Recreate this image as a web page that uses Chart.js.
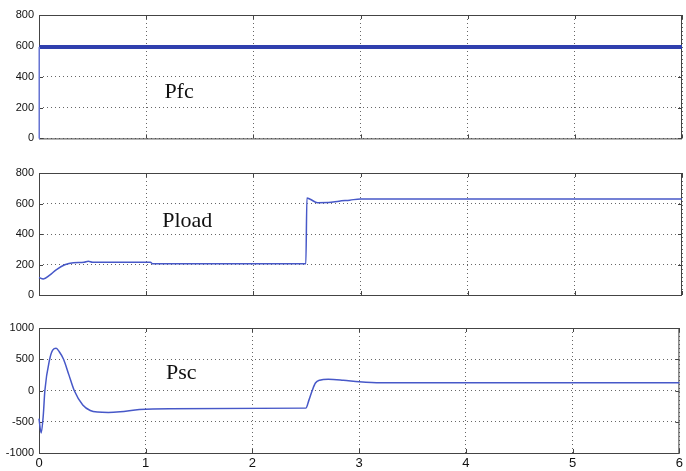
<!DOCTYPE html>
<html>
<head>
<meta charset="utf-8">
<script src="https://cdn.jsdelivr.net/npm/chart.js@4.4.1/dist/chart.umd.min.js"></script>
<style>
    html, body { margin: 0; padding: 0; background: #fff; }
    #wrap { position: relative; width: 686px; height: 471px; overflow: hidden; }
    .panel { position: absolute; left: 0; width: 686px; }
</style>
</head>
<body>
<div id="wrap">
    <div class="panel" style="top:0;height:150px"><canvas id="fcChart"></canvas></div>
    <div class="panel" style="top:158px;height:150px"><canvas id="loadChart"></canvas></div>
    <div class="panel" style="top:313px;height:158px"><canvas id="scChart"></canvas></div>
</div>
<script>
// Time axis ticks (s)
const timeTicks = [0, 1, 2, 3, 4, 5, 6];

// Fuel cell power: start-up edge and steady level
const timeFcRise = [0, 0.002];
const powerFcRise = [0, 592];
const timeFc = [0.002, 6];
const powerFc = [592, 592];

// Load power
const timeLoad = [0, 0.04, 0.1, 0.16, 0.24, 0.32, 0.42, 0.46, 0.5, 1.04, 1.06, 2.49, 2.5, 2.53, 2.6, 2.7, 2.8, 2.9, 3.0, 6];
const powerLoad = [115, 105, 130, 165, 198, 212, 215, 222, 215, 215, 205, 205, 636, 628, 605, 606, 615, 622, 630, 630];

// Supercapacitor power
const timeSc = [0, 0.02, 0.04, 0.055, 0.1, 0.13, 0.16, 0.19, 0.23, 0.28, 0.33, 0.41, 0.48, 0.55, 0.65, 0.76, 0.94, 1.22, 2.5, 2.53, 2.56, 2.59, 2.63, 2.71, 2.85, 3.0, 3.2, 6];
const powerSc = [-450, -680, -400, 0, 500, 650, 675, 620, 500, 250, 0, -232, -320, -345, -350, -340, -305, -291, -282, -150, 0, 120, 165, 179, 165, 141, 125, 125];

const yTicksPower = [0, 200, 400, 600, 800];
const yTicksSc = [-1000, -500, 0, 500, 1000];

const lineBlue = '#4758c8';
const frameColor = '#444';

function toPoints(xs, ys) {
    return xs.map((x, i) => ({ x: x, y: ys[i] }));
}

function series(xs, ys, color, width, smooth) {
    return {
        data: toPoints(xs, ys),
        borderColor: color,
        borderWidth: width,
        pointRadius: 0,
        fill: false,
        clip: 4,
        cubicInterpolationMode: smooth ? 'monotone' : 'default'
    };
}

// Box around the plot area with inward ticks on all four sides (under the traces),
// and the panel caption on top
const framePlugin = {
    id: 'frameBox',
    beforeDatasetsDraw(chart) {
        const { ctx, chartArea: a, scales } = chart;
        ctx.save();
        ctx.strokeStyle = frameColor;
        ctx.lineWidth = 1;
        ctx.strokeRect(a.left + 0.5, a.top + 0.5, a.right - a.left - 1, a.bottom - a.top);
        const len = 4;
        ctx.beginPath();
        scales.x.ticks.forEach(t => {
            const px = Math.round(scales.x.getPixelForValue(t.value)) + 0.5;
            ctx.moveTo(px, a.top); ctx.lineTo(px, a.top + len);
            ctx.moveTo(px, a.bottom); ctx.lineTo(px, a.bottom - len);
        });
        scales.y.ticks.forEach(t => {
            const py = Math.round(scales.y.getPixelForValue(t.value)) + 0.5;
            ctx.moveTo(a.left, py); ctx.lineTo(a.left + len, py);
            ctx.moveTo(a.right, py); ctx.lineTo(a.right - len, py);
        });
        ctx.stroke();
        ctx.restore();
    },
    afterDraw(chart, args, opts) {
        if (!opts.text) return;
        const { ctx, scales } = chart;
        ctx.save();
        ctx.fillStyle = '#111';
        ctx.font = '22px "Liberation Serif", "Times New Roman", serif';
        ctx.textBaseline = 'middle';
        ctx.textAlign = 'left';
        ctx.fillText(opts.text, scales.x.getPixelForValue(opts.x), scales.y.getPixelForValue(opts.y));
        ctx.restore();
    }
};

function makePanel(canvasId, datasets, yTicks, caption, opts) {
    const ctx = document.getElementById(canvasId).getContext('2d');
    return new Chart(ctx, {
        type: 'line',
        data: { datasets: datasets },
        options: {
            responsive: true,
            maintainAspectRatio: false,
            animation: false,
            events: [],
            layout: { padding: { left: 0, right: 4, top: 15, bottom: opts.bottom } },
            plugins: {
                legend: { display: false },
                tooltip: { enabled: false },
                frameBox: caption
            },
            scales: {
                x: {
                    type: 'linear',
                    min: 0,
                    max: 6,
                    afterBuildTicks: s => { s.ticks = timeTicks.map(v => ({ value: v })); },
                    afterFit: s => { s.height = opts.showX ? 18 : 0; },
                    grid: { color: '#666', lineWidth: 1, drawTicks: false },
                    border: { display: false, dash: [1, 3] },
                    ticks: {
                        display: !!opts.showX,
                        color: '#111',
                        padding: 3,
                        maxRotation: 0,
                        callback: v => String(v),
                        font: { family: '"Liberation Sans", Arial, sans-serif', size: 13 }
                    }
                },
                y: {
                    min: yTicks[0],
                    max: yTicks[yTicks.length - 1],
                    afterBuildTicks: s => { s.ticks = yTicks.map(v => ({ value: v })); },
                    afterFit: s => { s.width = 39; },
                    grid: { color: '#666', lineWidth: 1, drawTicks: false },
                    border: { display: false, dash: [1, 3] },
                    ticks: {
                        color: '#111',
                        padding: 5,
                        callback: v => String(v),
                        font: { family: '"Liberation Sans", Arial, sans-serif', size: 11 }
                    }
                }
            }
        },
        plugins: [framePlugin]
    });
}

makePanel('fcChart', [
    series(timeFcRise, powerFcRise, '#6a78d8', 1.5, false),
    series(timeFc, powerFc, '#2f3fae', 4, false)
], yTicksPower, { text: 'Pfc', x: 1.17, y: 300 }, { bottom: 10 });

makePanel('loadChart', [
    series(timeLoad, powerLoad, lineBlue, 1.5, true)
], yTicksPower, { text: 'Pload', x: 1.15, y: 485 }, { bottom: 13 });

makePanel('scChart', [
    series(timeSc, powerSc, lineBlue, 1.5, true)
], yTicksSc, { text: 'Psc', x: 1.19, y: 280 }, { bottom: 0, showX: true });
</script>
</body>
</html>
